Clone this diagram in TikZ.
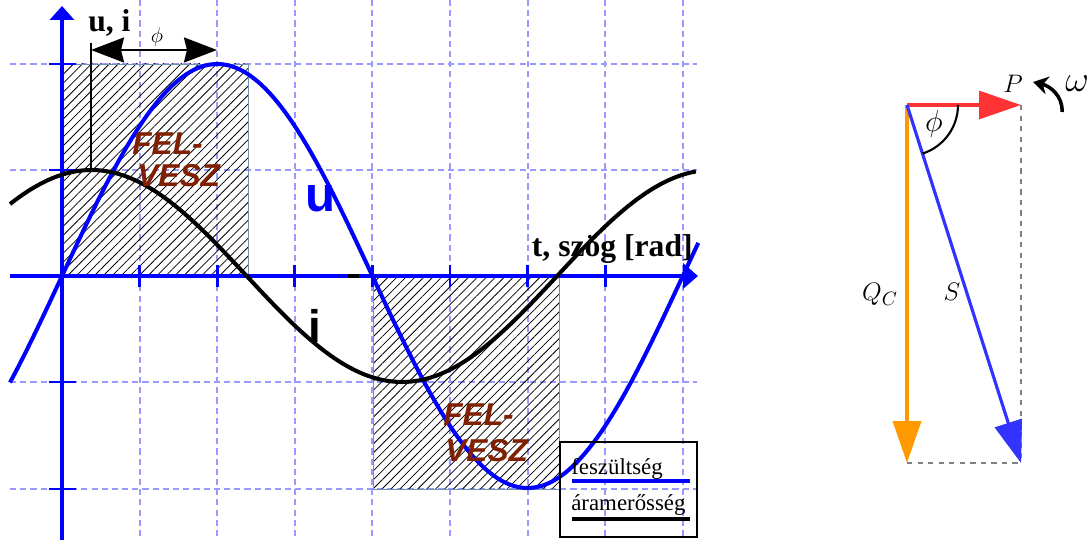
\documentclass[tikz,border=0pt]{standalone}
\usepackage{fontspec}
\setmainfont{Liberation Serif}
\setsansfont{Liberation Sans}
\usetikzlibrary{arrows.meta,patterns.meta}
\definecolor{gridblue}{HTML}{9999FF}
\definecolor{felbarna}{HTML}{802000}
\definecolor{pred}{HTML}{FF3333}
\definecolor{qorange}{HTML}{FF9900}
\definecolor{sblue}{HTML}{3333FF}
\definecolor{rectedge}{HTML}{7090B0}
\tikzset{
  racs/.style={gridblue, line width=1.1pt, dash pattern=on 3.5pt off 2.3pt},
  tengely/.style={blue, line width=2.3pt},
  hatch/.style={pattern={Lines[angle=45,distance=3.6pt,line width=0.45pt]}, draw=rectedge, line width=0.5pt},
  felvesz/.style={font=\fontsize{18}{18}\selectfont\sffamily\bfseries\itshape, text=felbarna, anchor=base west, inner sep=0pt},
  cimke/.style={font=\fontsize{18}{20}\selectfont\bfseries, inner sep=0pt},
  jelmag/.style={font=\fontsize{13}{15}\selectfont, anchor=base west, inner sep=0pt},
  vektor/.style={line width=1.8pt},
  fazisnyil/.style={line width=1.3pt, {Stealth[length=0.66cm,width=0.5cm,inset=0.06cm]}-{Stealth[length=0.66cm,width=0.5cm,inset=0.06cm]}},
}

\begin{document}
\begin{tikzpicture}[x=0.02cm, y=-0.02cm]
\useasboundingbox (0,0) rectangle (1092,540);
% grid
\foreach \k in {1,...,8}
  \draw[racs] ({62+77.6*\k},0) -- ({62+77.6*\k},540);
\foreach \yy in {64,170,382,489}
  \draw[racs] (10,\yy) -- (697,\yy);
% FEL-VESZ areas
\draw[hatch] (62,64) rectangle (248,276);
\draw[hatch] (373,276) rectangle (559,489);
% axes
\draw[tengely, -{Triangle[length=0.3cm,width=0.5cm]}] (10,276) -- (698,276);
\draw[tengely, -{Triangle[length=0.28cm,width=0.48cm]}] (62,540) -- (62,6);
\foreach \k in {1,...,7}
  \draw[blue, line width=1.5pt] ({62+77.6*\k},265) -- ({62+77.6*\k},287);
\foreach \yy in {64,170,382,489}
  \draw[blue, line width=1.5pt] (49,\yy) -- (76,\yy);
\draw[line width=2.3pt] (348,276) -- (359,276);
% u and i
\draw[blue, line width=2.3pt] plot[domain=-0.67:8.2, samples=160, smooth] ({62+77.6*\x},{276-212*sin(45*\x)});
\draw[black, line width=2.3pt] plot[domain=-0.67:8.17, samples=160, smooth] ({62+77.6*\x},{276-106*cos(45*(\x-0.38))});
% phase shift
\coordinate (ipeak) at (91,170);
\coordinate (phitop) at (91,43);
\coordinate (phiL) at (91,50);
\coordinate (phiR) at (217,50);
\draw[line width=1pt] (ipeak) -- (phitop);
\draw[fazisnyil] (phiL) -- (phiR);
\node (phidim) at (157,37) {\fontsize{13}{15}\selectfont$\phi$};
% labels
\node[cimke, anchor=base west] (ui) at (88,32) {u, i};
\node[cimke, anchor=base east] (tszog) at (693,257) {t, szög [rad]};
\node[font=\fontsize{28}{30}\selectfont\sffamily\bfseries, text=blue, anchor=base, inner sep=0pt] (ulab) at (321,212) {u};
\node[font=\fontsize{26}{28}\selectfont\sffamily\bfseries, anchor=base, inner sep=0pt] (ilab) at (315,343) {i};
\node[felvesz] (fel1) at (132,155) {FEL-};
\node[felvesz] (vesz1) at (137,187) {VESZ};
\node[felvesz] (fel2) at (443,425) {FEL-};
\node[felvesz] (vesz2) at (445,461) {VESZ};
% legend
\draw[line width=1pt] (560,442) rectangle (697,537);
\node[jelmag] (fesz) at (571,474) {feszültség};
\node[jelmag] (aram) at (571,510) {áramerősség};
\draw[blue, line width=2.3pt] (572,481) -- (690,481);
\draw[black, line width=2.3pt] (572,519) -- (690,519);
% phasor diagram
\coordinate (O) at (907,105);
\coordinate (P) at (1021,105);
\coordinate (Q) at (907,463);
\coordinate (S) at (1021,463);
\draw[gray, line width=0.6pt, dashed] (P) -- (S);
\draw[gray, line width=0.6pt, dashed] (Q) -- (S);
\draw[vektor, pred, -{Triangle[length=0.84cm,width=0.56cm]}] (O) -- (P);
\draw[vektor, qorange, line width=2.2pt, -{Triangle[length=0.84cm,width=0.56cm]}] (O) -- (Q);
\draw[vektor, sblue, -{Triangle[length=0.84cm,width=0.56cm]}] (O) -- (S);
\draw[line width=1.2pt] ([xshift=1.02cm]O) arc[start angle=0, end angle=72.3, radius=51];
\node (philab) at (934,124) {\fontsize{18}{20}\selectfont$\phi$};
\node[anchor=base, inner sep=0pt] (Plab) at (1013,93) {\fontsize{15}{17}\selectfont$P$};
\node[anchor=base, inner sep=0pt] (Qlab) at (880,301) {\fontsize{15}{17}\selectfont$Q_C$};
\node[anchor=base, inner sep=0pt] (Slab) at (952,301) {\fontsize{15}{17}\selectfont$S$};
\node[anchor=base, inner sep=0pt] (omega) at (1077,92) {\fontsize{22}{24}\selectfont$\omega$};
\coordinate (wtail) at (1062,112);
\coordinate (whead) at (1033,82);
\draw[line width=2pt, -{Stealth[length=0.3cm,width=0.36cm]}] (wtail) .. controls (1063,96) and (1050,86) .. (whead);
\end{tikzpicture}
\end{document}
